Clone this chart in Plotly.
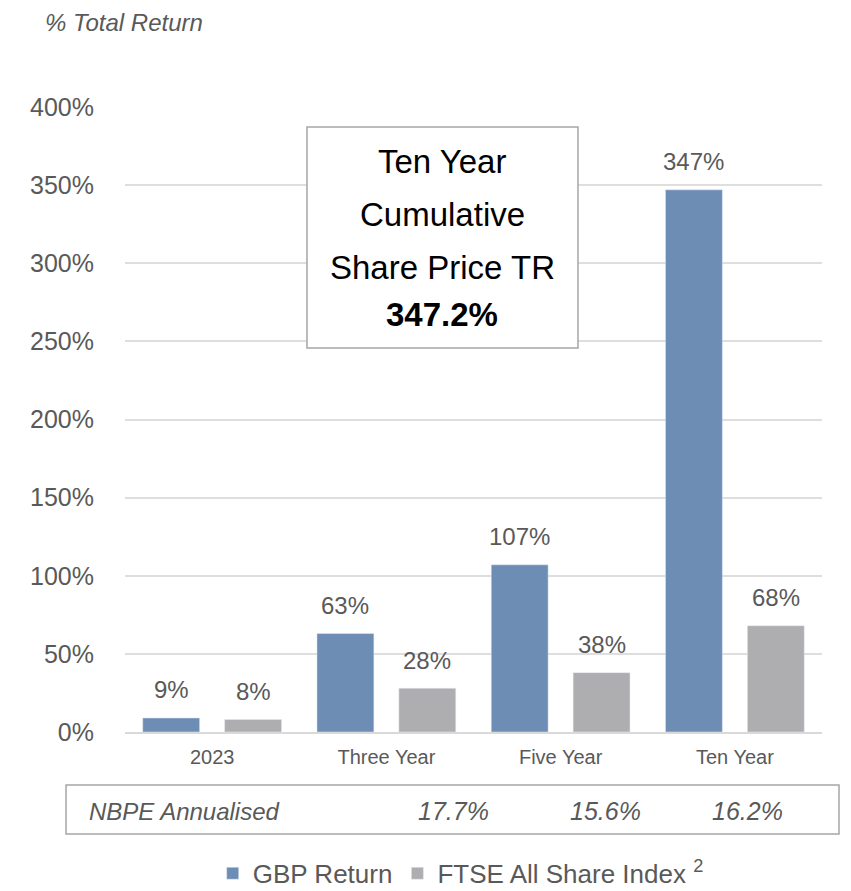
import plotly.graph_objects as go

categories = ["2023", "Three Year", "Five Year", "Ten Year"]
gbp_return = [9, 63, 107, 347]
ftse_return = [8, 28, 38, 68]
gbp_labels = ["9%", "63%", "107%", "347%"]
ftse_labels = ["8%", "28%", "38%", "68%"]
annualised_labels = ["17.7%", "15.6%", "16.2%"]
y_ticks = [0, 50, 100, 150, 200, 250, 300, 350, 400]

FONT = "Liberation Sans Narrow, Arial Narrow, Liberation Sans, Arial"
GREY = "#595959"
GBP_COLOR = "#6E8DB4"
FTSE_COLOR = "#AEAEB0"

fig = go.Figure()
fig.add_trace(go.Bar(x=categories, y=gbp_return, name="GBP Return",
                     marker_color=GBP_COLOR))
fig.add_trace(go.Bar(x=categories, y=ftse_return,
                     name="FTSE All Share Index <sup>2</sup>",
                     marker_color=FTSE_COLOR))

# value labels above bars (x given as category index)
for i, (v, lab) in enumerate(zip(gbp_return, gbp_labels)):
    fig.add_annotation(x=i, y=v, text=lab, showarrow=False, xshift=-41,
                       yshift=28, yanchor="middle",
                       font=dict(size=24, color=GREY))
for i, (v, lab) in enumerate(zip(ftse_return, ftse_labels)):
    fig.add_annotation(x=i, y=v, text=lab, showarrow=False, xshift=41,
                       yshift=28, yanchor="middle",
                       font=dict(size=24, color=GREY))

fig.update_layout(
    width=843, height=883,
    paper_bgcolor="white", plot_bgcolor="white",
    font=dict(family=FONT, color=GREY),
    margin=dict(l=117, r=29, t=99, b=159, autoexpand=False),
    barmode="group", bargap=0.06, bargroupgap=0.305,
    showlegend=True,
    legend=dict(orientation="h", xref="container", yref="container",
                x=0.537, xanchor="center", y=0.02, yanchor="middle",
                font=dict(size=26, color=GREY), traceorder="normal",
                itemwidth=30, tracegroupgap=0),
    xaxis=dict(type="category", categoryorder="array", categoryarray=categories,
               range=[-0.5, len(categories) - 0.5],
               showgrid=False, showline=True, linecolor="#D9D9D9", linewidth=2,
               tickfont=dict(size=20, color=GREY), ticks="",
               ticklabelstandoff=6),
    yaxis=dict(range=[0, 400], tickvals=y_ticks,
               ticktext=[f"{v}%" for v in y_ticks],
               showgrid=True, gridcolor="#DEDEDE", gridwidth=1.5,
               zeroline=False, tickfont=dict(size=25, color=GREY),
               ticklabelstandoff=30),
)

# Title
fig.add_annotation(text="<i>% Total Return</i>", xref="paper", yref="paper",
                   x=-0.1176, y=1.136, xanchor="left", yanchor="middle",
                   showarrow=False, font=dict(size=24, color=GREY))

# Callout box
fig.add_shape(type="rect", xref="paper", yref="paper",
              x0=0.2611, x1=0.6499, y0=0.6144, y1=0.968,
              line=dict(color="#A6A6A6", width=1.5), fillcolor="white")
callout_lines = ["Ten Year", "Cumulative", "Share Price TR", "<b>347.2%</b>"]
callout_y = [0.9136, 0.8272, 0.744, 0.6688]
callout_size = [33, 33, 33, 33]
for txt, yy, sz in zip(callout_lines, callout_y, callout_size):
    fig.add_annotation(text=txt, xref="paper", yref="paper", x=0.4555, y=yy,
                       xanchor="center", yanchor="middle", showarrow=False,
                       font=dict(size=sz, color="black"))

# Annualised table
fig.add_shape(type="rect", xref="paper", yref="paper",
              x0=-0.0846, x1=1.0244, y0=-0.1632, y1=-0.0848,
              line=dict(color="#A6A6A6", width=1.5), fillcolor="rgba(0,0,0,0)")
fig.add_annotation(text="<i>NBPE Annualised</i>", xref="paper", yref="paper",
                   x=-0.0545, y=-0.1264, xanchor="left", yanchor="middle",
                   showarrow=False, font=dict(size=24, color=GREY))
for xpos, lab in zip([0.4706, 0.6887, 0.8924], annualised_labels):
    fig.add_annotation(text=f"<i>{lab}</i>", xref="paper", yref="paper",
                       x=xpos, y=-0.1264, xanchor="center", yanchor="middle",
                       showarrow=False, font=dict(size=25, color=GREY))

fig.write_html("out.html")
